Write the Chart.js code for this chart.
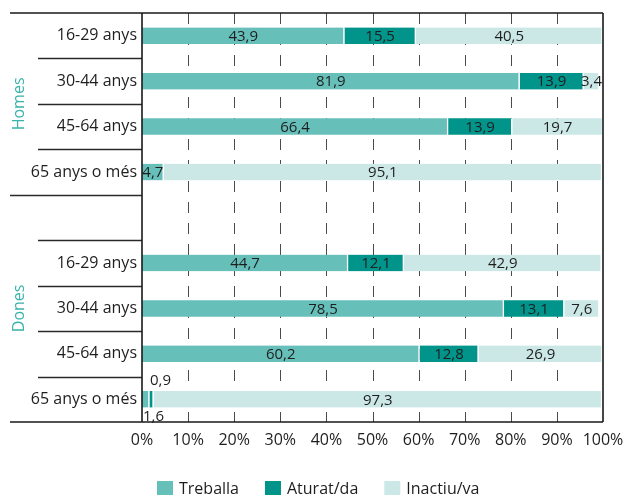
<!DOCTYPE html>
<html>
<head>
<meta charset="utf-8">
<script src="https://cdn.jsdelivr.net/npm/chart.js@4/dist/chart.umd.min.js"></script>
<style>
  html, body { margin: 0; padding: 0; background: #fff; overflow: hidden; }
  #wrap { width: 626px; height: 495px; position: relative; }
</style>
</head>
<body>
<div id="wrap"><canvas id="chart"></canvas></div>
<script>
// Age bands (an empty slot separates the two groups)
const categories = ['16-29 anys', '30-44 anys', '45-64 anys', '65 anys o més', '',
                    '16-29 anys', '30-44 anys', '45-64 anys', '65 anys o més'];
const groupNames = ['Homes', 'Dones'];
const seriesNames = ['Treballa', 'Aturat/da', 'Inactiu/va'];

// Percentages per age band
const treballa = [43.9, 81.9, 66.4, 4.7, null, 44.7, 78.5, 60.2, 1.6];
const aturat   = [15.5, 13.9, 13.9, null, null, 12.1, 13.1, 12.8, 0.9];
const inactiu  = [40.5, 3.4, 19.7, 95.1, null, 42.9, 7.6, 26.9, 97.3];

const xTickValues = [0, 10, 20, 30, 40, 50, 60, 70, 80, 90, 100];
const xTickLabels = ['0%', '10%', '20%', '30%', '40%', '50%', '60%', '70%', '80%', '90%', '100%'];

const COLORS = ['#67bfba', '#00948a', '#cbe8e7'];
const FONT = '"Open Sans", "Noto Sans", sans-serif';
const TEXT = '#1e1e1e';
const GROUP_COLOR = '#3ab3ab';

const fmt = v => v.toFixed(1).replace('.', ',');

// Dashed vertical guides behind the bars
const guides = {
  id: 'guides',
  beforeDatasetsDraw(chart) {
    const { ctx, chartArea: a, scales: { x } } = chart;
    ctx.save();
    ctx.strokeStyle = '#4a4a4a';
    ctx.lineWidth = 1;
    ctx.setLineDash([11, 10]);
    xTickValues.slice(1, -1).forEach(v => {
      const px = Math.round(x.getPixelForValue(v)) + 0.5;
      ctx.beginPath();
      ctx.moveTo(px, a.top);
      ctx.lineTo(px, a.bottom);
      ctx.stroke();
    });
    ctx.restore();
  }
};

// Frame, row separators, group titles, value labels and legend
const decorations = {
  id: 'decorations',
  afterDatasetsDraw(chart) {
    const { ctx, chartArea: a, scales: { y } } = chart;
    const n = categories.length;
    const rowH = (a.bottom - a.top) / n;
    ctx.save();

    // value labels
    ctx.font = '15px ' + FONT;
    ctx.fillStyle = TEXT;
    ctx.textBaseline = 'middle';
    chart.data.datasets.forEach((ds, di) => {
      const meta = chart.getDatasetMeta(di);
      ds.data.forEach((v, i) => {
        if (v == null) return;
        const el = meta.data[i];
        const cx = (el.x + el.base) / 2;
        const isLastRow = i === n - 1;
        if (isLastRow && di === 0) {
          ctx.textAlign = 'left';
          ctx.fillText(fmt(v), el.base + 1, el.y + 17);
        } else if (isLastRow && di === 1) {
          ctx.textAlign = 'center';
          ctx.fillText(fmt(v), cx + 9, el.y - 19);
        } else {
          ctx.textAlign = 'center';
          ctx.fillText(fmt(v), cx, el.y + 1);
        }
      });
    });

    // row separators on the left
    ctx.strokeStyle = '#2a2a2a';
    ctx.lineWidth = 1.3;
    for (let k = 1; k < n; k++) {
      const py = Math.round(a.top + k * rowH) + 0.5;
      const x0 = (k === 4) ? 10 : 38;
      ctx.beginPath();
      ctx.moveTo(x0, py);
      ctx.lineTo(a.left, py);
      ctx.stroke();
    }

    // outer frame
    ctx.lineWidth = 1.6;
    ctx.strokeStyle = '#1a1a1a';
    ctx.beginPath();
    ctx.moveTo(10, a.top); ctx.lineTo(a.right, a.top);
    ctx.moveTo(10, a.bottom); ctx.lineTo(a.right, a.bottom);
    ctx.moveTo(a.left, a.top); ctx.lineTo(a.left, a.bottom);
    ctx.moveTo(a.right, a.top); ctx.lineTo(a.right, a.bottom);
    ctx.stroke();

    // group titles
    ctx.font = '16px ' + FONT;
    ctx.fillStyle = GROUP_COLOR;
    ctx.textAlign = 'center';
    ctx.textBaseline = 'middle';
    const groupCenters = [a.top + 2 * rowH, y.getPixelForValue(6)];
    groupNames.forEach((g, gi) => {
      ctx.save();
      ctx.translate(19, groupCenters[gi]);
      ctx.rotate(-Math.PI / 2);
      ctx.fillText(g, 0, 0);
      ctx.restore();
    });

    // legend
    ctx.font = '16px ' + FONT;
    ctx.textAlign = 'left';
    ctx.textBaseline = 'middle';
    let lx = 157;
    const ly = 489;
    seriesNames.forEach((s, si) => {
      ctx.fillStyle = COLORS[si];
      ctx.fillRect(lx, ly - 8, 16, 16);
      ctx.fillStyle = TEXT;
      ctx.fillText(s, lx + 22, ly);
      lx += 22 + ctx.measureText(s).width + 26;
    });

    ctx.restore();
  }
};

const mkSet = (label, data, color) => ({
  label, data,
  backgroundColor: color,
  borderColor: '#ffffff',
  borderWidth: { top: 0, bottom: 0, left: 0, right: 1.5 },
  borderSkipped: false,
  barThickness: 16.5
});

new Chart(document.getElementById('chart'), {
  type: 'bar',
  data: {
    labels: categories,
    datasets: [
      mkSet(seriesNames[0], treballa, COLORS[0]),
      mkSet(seriesNames[1], aturat, COLORS[1]),
      mkSet(seriesNames[2], inactiu, COLORS[2])
    ]
  },
  options: {
    indexAxis: 'y',
    responsive: true,
    maintainAspectRatio: false,
    animation: false,
    layout: { padding: { top: 13, right: 23, bottom: 0, left: 0 } },
    plugins: { legend: { display: false }, tooltip: { enabled: false } },
    scales: {
      x: {
        stacked: true,
        min: 0, max: 100,
        grid: { display: false, drawTicks: false },
        border: { display: false },
        afterBuildTicks: s => { s.ticks = xTickValues.map(v => ({ value: v })); },
        ticks: {
          autoSkip: false,
          maxRotation: 0,
          padding: 9,
          color: TEXT,
          font: { family: FONT, size: 16 },
          callback: (v) => xTickLabels[xTickValues.indexOf(v)]
        },
        afterFit: s => { s.height = 73; s.paddingLeft = 0; s.paddingRight = 0; }
      },
      y: {
        stacked: true,
        grid: { display: false, drawTicks: false },
        border: { display: false },
        ticks: {
          autoSkip: false,
          padding: 5,
          color: TEXT,
          font: { family: FONT, size: 16 }
        },
        afterFit: s => { s.width = 142; s.paddingTop = 0; s.paddingBottom = 0; }
      }
    }
  },
  plugins: [guides, decorations]
});
</script>
</body>
</html>
